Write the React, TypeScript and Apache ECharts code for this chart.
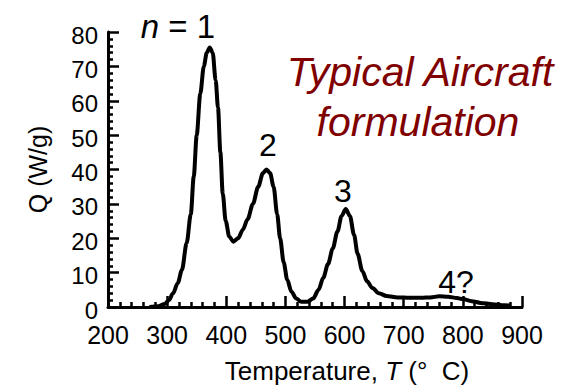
import React, { useEffect, useRef } from "react";
import * as echarts from "echarts";

// Temperature (°C) and heat release rate Q (W/g)
const temperature = [
  270, 285, 296, 303, 310, 318, 325, 333, 340, 345, 350, 356, 362, 367, 372, 377,
  382, 386, 390, 394, 399, 405, 412, 420, 428, 436, 445, 454, 462, 468, 474, 480,
  486, 491, 497, 503, 510, 518, 527, 537, 547, 556, 564, 572, 580, 588, 595, 602,
  609, 616, 622, 630, 638, 647, 658, 671, 690, 710, 730, 745, 760, 775, 790, 800,
  815, 830, 850, 870, 880,
];
const heatRelease = [
  0, 0.2, 0.9, 2, 4, 7, 10.8, 18.6, 27, 38, 50, 62, 70, 74, 75.5, 74,
  66, 58, 45, 33, 25, 20.5, 19, 20, 22.5, 25.5, 30, 35, 39, 40, 39, 35,
  27, 20, 13, 8, 4.5, 2.5, 1.5, 1.5, 2.5, 5, 8.5, 12.5, 17, 22, 26.5, 28.5,
  26.5, 21, 15.5, 10.5, 7.5, 5.5, 4, 3.2, 2.8, 2.7, 2.7, 2.8, 3.1, 3, 2.6, 2.3,
  1.7, 1.2, 0.8, 0.5, 0.4,
];

const peakLabels = ["2", "3", "4?"];
const titleLines = ["Typical Aircraft", "formulation"];

const FONT = "Arial, 'Liberation Sans', sans-serif";

export default function App() {
  const ref = useRef<HTMLDivElement>(null);

  useEffect(() => {
    if (!ref.current) return;
    const chart = echarts.init(ref.current, undefined, { renderer: "svg" });
    const data = temperature.map((t, i) => [t, heatRelease[i]]);
    chart.setOption({
      animation: false,
      backgroundColor: "#ffffff",
      grid: { left: 108, right: 51, top: 32, bottom: 80 },
      xAxis: {
        type: "value",
        min: 200,
        max: 900,
        interval: 100,
        axisLine: { show: true, lineStyle: { color: "#000", width: 3 } },
        axisTick: { show: true, inside: true, length: 11, lineStyle: { color: "#000", width: 2.5 } },
        minorTick: { show: true, splitNumber: 5, length: 5, lineStyle: { color: "#000", width: 2.5 } },
        splitLine: { show: false },
        axisLabel: { color: "#000", fontSize: 25, fontFamily: FONT, margin: 15 },
      },
      yAxis: {
        type: "value",
        min: 0,
        max: 80,
        interval: 10,
        axisLine: { show: true, lineStyle: { color: "#000", width: 3 } },
        axisTick: { show: true, inside: true, length: 11, lineStyle: { color: "#000", width: 2.5 } },
        minorTick: { show: true, splitNumber: 5, length: 5, lineStyle: { color: "#000", width: 2.5 } },
        splitLine: { show: false },
        axisLabel: {
          color: "#000",
          fontSize: 24,
          fontFamily: FONT,
          margin: 10,
          verticalAlign: "top",
          lineHeight: 6,
        },
        name: "Q (W/g)",
        nameLocation: "middle",
        nameRotate: 90,
        nameGap: 58,
        nameTextStyle: { color: "#000", fontSize: 25, fontFamily: FONT },
      },
      graphic: [
        {
          type: "text",
          x: 178,
          y: 26,
          style: {
            text: "{i|n} = 1",
            rich: { i: { fontStyle: "italic", fontSize: 33, fontFamily: FONT, fill: "#000" } },
            fontSize: 33,
            fontFamily: FONT,
            fill: "#000",
            align: "center",
            verticalAlign: "middle",
          },
        },
        {
          type: "text",
          x: 268, y: 145,
          style: { text: peakLabels[0], fontSize: 32, fontFamily: FONT, fill: "#000", align: "center", verticalAlign: "middle" },
        },
        {
          type: "text",
          x: 343, y: 191,
          style: { text: peakLabels[1], fontSize: 32, fontFamily: FONT, fill: "#000", align: "center", verticalAlign: "middle" },
        },
        {
          type: "text",
          x: 456, y: 282,
          style: { text: peakLabels[2], fontSize: 32, fontFamily: FONT, fill: "#000", align: "center", verticalAlign: "middle" },
        },
        {
          type: "text",
          x: 420, y: 72,
          style: { text: titleLines[0], fontSize: 41, fontStyle: "italic", fontFamily: FONT, fill: "#800000", align: "center", verticalAlign: "middle" },
        },
        {
          type: "text",
          x: 418, y: 122,
          style: { text: titleLines[1], fontSize: 41, fontStyle: "italic", fontFamily: FONT, fill: "#800000", align: "center", verticalAlign: "middle" },
        },
        {
          type: "text",
          x: 347, y: 371,
          style: {
            text: "Temperature, {i|T} (°  C)",
            rich: { i: { fontStyle: "italic", fontSize: 26, fontFamily: FONT, fill: "#000" } },
            fontSize: 26,
            fontFamily: FONT,
            fill: "#000",
            align: "center",
            verticalAlign: "middle",
          },
        },
      ],
      series: [
        {
          type: "line",
          data,
          showSymbol: false,
          smooth: 0.3,
          smoothMonotone: "x",
          lineStyle: { color: "#000", width: 4 },
          z: 1,
        },
      ],
    });
    return () => chart.dispose();
  }, []);

  return (
    <div
      ref={ref}
      style={{ position: "fixed", left: 0, top: 0, width: 573, height: 387 }}
    />
  );
}
